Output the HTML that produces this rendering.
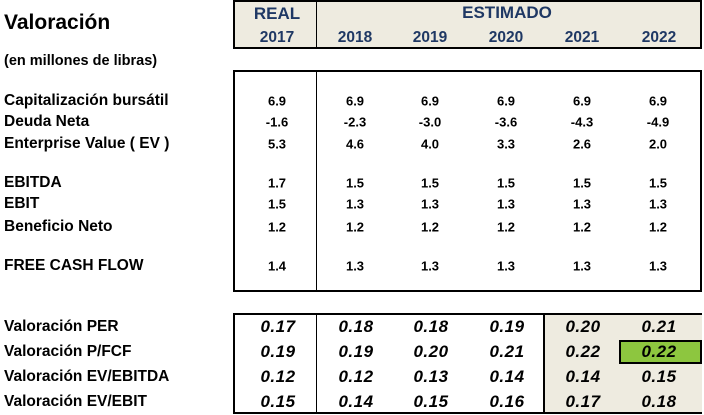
<!DOCTYPE html>
<html><head><meta charset="utf-8"><style>
body{margin:0;width:704px;height:415px;background:#fff;position:relative;overflow:hidden;font-family:"Liberation Sans",sans-serif;font-weight:bold;color:#000}
.a{position:absolute;white-space:nowrap}
.box{position:absolute;border:2px solid #000;box-sizing:border-box}
.l{left:4px;font-size:15.5px;transform:translateY(-50%)}
.v{font-size:13px;transform:translate(-50%,-50%)}
.i{font-size:17px;font-style:italic;transform:translate(-50%,-50%);letter-spacing:0.5px}
.h{color:#1F3864;font-size:15.5px;transform:translate(-50%,-50%)}
</style></head><body>
<div class="a" style="left:4px;top:11px;font-size:21px">Valoración</div>
<div class="a" style="left:4px;top:53px;font-size:14.5px">(en millones de libras)</div>

<div class="box" style="left:233px;top:0;width:469px;height:49px;background:#EEEBE0"></div>
<div class="a" style="left:316px;top:1px;width:1px;height:46px;background:#000"></div>
<div class="a h" style="left:277px;top:14px;font-size:17px">REAL</div>
<div class="a h" style="left:507px;top:13px;font-size:17px">ESTIMADO</div>
<div class="a h" style="left:277px;top:38px">2017</div>
<div class="a h" style="left:355px;top:38px">2018</div>
<div class="a h" style="left:430px;top:38px">2019</div>
<div class="a h" style="left:506px;top:38px">2020</div>
<div class="a h" style="left:582px;top:38px">2021</div>
<div class="a h" style="left:659px;top:38px">2022</div>

<div class="box" style="left:233px;top:70px;width:469px;height:222px"></div>
<div class="a" style="left:316px;top:71px;width:1px;height:220px;background:#000"></div>

<div class="box" style="left:233px;top:313px;width:469px;height:101px"></div>
<div class="a" style="left:543px;top:315px;width:157px;height:97px;background:#EEEBE0;border-left:2px solid #000"></div>
<div class="a" style="left:316px;top:315px;width:1px;height:97px;background:#000"></div>
<div class="a" style="left:619px;top:340px;width:83px;height:24px;background:#8DC63F;border:2px solid #000;box-sizing:border-box"></div>

<div class="a l" style="top:101px">Capitalización bursátil</div>
<div class="a l" style="top:122px">Deuda Neta</div>
<div class="a l" style="top:144px">Enterprise Value ( EV )</div>
<div class="a l" style="top:183px">EBITDA</div>
<div class="a l" style="top:204px">EBIT</div>
<div class="a l" style="top:227px">Beneficio Neto</div>
<div class="a l" style="top:266px">FREE CASH FLOW</div>
<div class="a l" style="top:327px">Valoración PER</div>
<div class="a l" style="top:352px">Valoración P/FCF</div>
<div class="a l" style="top:377px">Valoración EV/EBITDA</div>
<div class="a l" style="top:402px">Valoración EV/EBIT</div>

<div id="vals"></div>
<script>
var xs=[277,355,430,506,582,658];
var rows=[[101,["6.9","6.9","6.9","6.9","6.9","6.9"]],[122,["-1.6","-2.3","-3.0","-3.6","-4.3","-4.9"]],[144,["5.3","4.6","4.0","3.3","2.6","2.0"]],[183,["1.7","1.5","1.5","1.5","1.5","1.5"]],[204,["1.5","1.3","1.3","1.3","1.3","1.3"]],[227,["1.2","1.2","1.2","1.2","1.2","1.2"]],[266,["1.4","1.3","1.3","1.3","1.3","1.3"]]];
var it=[[327,["0.17","0.18","0.18","0.19","0.20","0.21"]],[352,["0.19","0.19","0.20","0.21","0.22","0.22"]],[377,["0.12","0.12","0.13","0.14","0.14","0.15"]],[402,["0.15","0.14","0.15","0.16","0.17","0.18"]]];
var h="";
rows.forEach(function(r){r[1].forEach(function(t,j){h+='<div class="a v" style="left:'+xs[j]+'px;top:'+r[0]+'px">'+t+'</div>';});});
it.forEach(function(r){r[1].forEach(function(t,j){h+='<div class="a i" style="left:'+(xs[j]+1)+'px;top:'+r[0]+'px">'+t+'</div>';});});
document.getElementById("vals").innerHTML=h;
</script>
</body></html>
